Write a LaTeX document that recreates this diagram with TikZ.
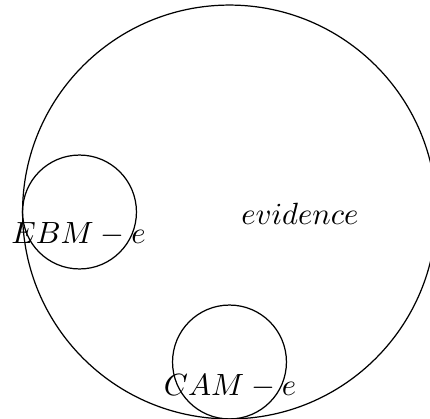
\documentclass[tikz,border=0pt]{standalone}
\begin{document}
\begin{tikzpicture}[x=0.3257pt,y=-0.3257pt,
  ring/.style={circle,draw,inner sep=0pt,outer sep=0pt},
  lbl/.style={inner sep=0pt,outer sep=0pt}]
\useasboundingbox (0,0) rectangle (430,419);
\node[ring,minimum size=134.8pt] (big) at (229.5,212) {};
\node[ring,minimum size=37.1pt] (ebm) at (79.5,212) {};
\node[ring,minimum size=37.1pt] (cam) at (229.5,362) {};
\node[lbl] (ev) at (300,214) {$evidence$};
\node[lbl] (ebml) at (78.5,234) {$EBM-e$};
\node[lbl] (caml) at (230,386) {$CAM-e$};
\end{tikzpicture}
\end{document}
